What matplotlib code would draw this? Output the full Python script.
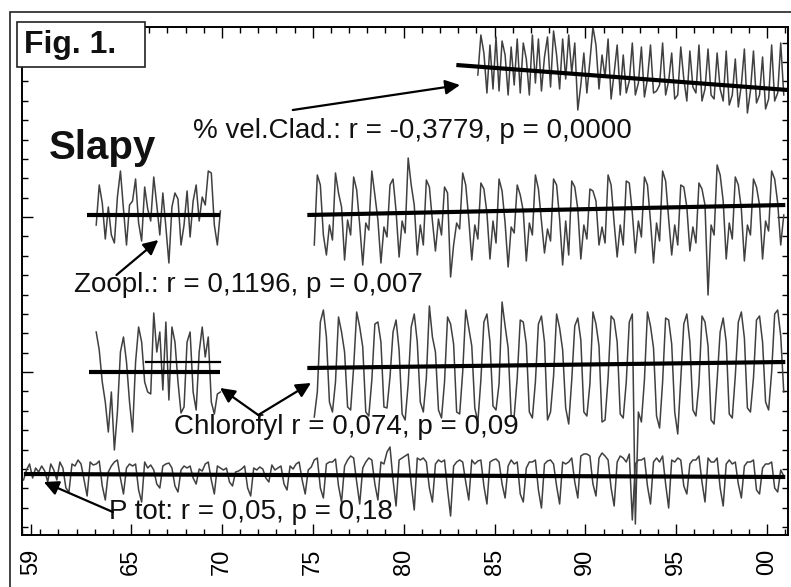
import numpy as np
import matplotlib
matplotlib.use('Agg')
import matplotlib.pyplot as plt
from matplotlib.patches import Rectangle
from matplotlib.ticker import FixedLocator, MultipleLocator

plt.rcParams['font.family'] = ['Liberation Sans', 'DejaVu Sans']

# ---- data: six readings per year (Jan, Mar, May, Jul, Sep, Nov), anomaly units ----
ptot_start = 1959
ptot_vals = [
    [-6, 4, 10, -4, 6, 2], [8, 3, -8, 10, 4, -6], [12, 6, -14, -18, 10, 8],
    [14, 10, -6, -22, 12, 9], [10, 13, -12, -26, 2, 8], [12, 14, -4, -20, 6, 10],
    [8, 10, -16, -28, 12, 6], [9, 4, -10, -14, 8, 10], [11, 6, -12, -18, 4, 8],
    [6, 8, -4, -10, 5, 3], [10, 12, -6, -20, 8, 6], [4, 6, -8, -12, 2, 3],
    [5, 8, -14, -22, 6, 4], [7, 5, -4, -8, 9, 4], [6, 8, -10, -16, 8, 5],
    [10, 12, -6, -20, 4, 7], [14, 16, -14, -24, 10, 12], [12, 15, -12, -28, 8, 14],
    [18, 16, -8, -30, 6, 12], [16, 14, -10, -26, 12, 10], [22, 27, -6, -32, 14, 16],
    [18, 20, -10, -36, 16, 14], [16, 12, -14, -28, 10, 14], [12, 14, -16, -42, 8, 12],
    [14, 12, -8, -26, 14, 10], [13, 14, -12, -30, 12, 14], [15, 12, -10, -24, 8, 14],
    [10, 12, -20, -28, 6, 12], [12, 14, -16, -34, 10, 13], [14, 10, -12, -30, 12, 10],
    [12, 16, -8, -24, 18, 20], [20, 18, -10, -22, 16, 21], [18, 14, -14, -32, 12, 18],
    [16, 12, 20, -46, 10, 14], [14, 16, -12, -30, 12, 16], [12, 18, -10, -34, 14, 12],
    [16, 14, -12, -20, 10, 14], [14, 18, -8, -28, 16, 12], [12, 16, -14, -32, 10, 14],
    [10, 12, -10, -24, 8, 12], [12, 14, -16, -20, 6, 10], [10, 12, -14, -18, 4, -2],
]

chl1_start = 1963
chl1_vals = [
    [40, 22, -10, -30, -60, -20], [-78, -40, 20, 35, 10, -30], [-60, 10, 45, 30, -10, -20],
    [-22, 59, 20, 40, -18, 50], [-28, 45, 30, -10, -41, -35], [30, 40, -20, -38, 20, 45],
    [15, 35, -30, -42, -22, -20],
]
chl2_start = 1975
chl2_vals = [
    [-45, -20, 50, 62, 35, -30], [-40, -10, 55, 40, 20, -35], [-38, 5, 60, 45, 25, -40],
    [-44, -8, 48, 50, 30, -35], [-36, -5, 40, 52, 22, -42], [-48, -12, 45, 58, 30, -30],
    [-40, -6, 66, 35, 20, -38], [-46, -10, 55, 48, 28, -40], [-42, 0, 62, 44, 26, -36],
    [-50, -8, 50, 58, 30, -34], [-38, -12, 70, 46, 24, -44], [-44, -6, 52, 50, 28, -40],
    [-46, -10, 48, 56, 30, -48], [-40, -4, 58, 44, 22, -36], [-52, -8, 46, 54, 32, -40],
    [-44, -12, 60, 48, 26, -50], [-48, -6, 56, 52, 30, -42], [-46, -10, 50, 58, -152, -40],
    [-50, -8, 60, 46, 24, -44], [-56, -10, 54, 52, 28, -40], [-62, -6, 48, 58, 30, -38],
    [-44, -12, 56, 50, 26, -48], [-52, -8, 40, 54, 30, -42], [-46, -4, 50, 60, 34, -36],
    [-40, -6, 52, 56, 30, -30], [-38, 0, 58, 62, 36, -20],
]

zoo1_start = 1963
zoo1_vals = [
    [-10, 30, 12, -24, 8, -20], [-28, 18, 44, 6, -30, 10], [14, 36, -8, -26, 28, 6],
    [-6, 38, 10, -20, 22, -12], [-48, 8, 22, 16, -30, -10], [24, -22, 14, 30, -6, 18],
    [10, 44, 42, -10, -30, 4],
]
zoo2_start = 1975
zoo2_vals = [
    [-30, 40, 30, -20, -40, -10], [-25, 42, 22, 8, -45, -5], [-20, 38, 25, -10, -50, -8],
    [-15, 44, 20, -5, -48, -12], [-22, 30, 36, 4, -42, -6], [-18, 57, 30, 10, -40, -10],
    [-30, 35, 28, -6, -36, -4], [-20, 28, 22, -62, -30, -8], [-14, 42, 30, -4, -45, -10],
    [-24, 32, 26, 2, -44, -6], [-28, 36, 24, -8, -52, -12], [-18, 30, 20, 4, -46, -8],
    [-20, 40, 26, -6, -38, -14], [-26, 36, 30, -4, -50, -6], [-40, 34, 28, 6, -44, -10],
    [-24, 26, 24, 14, -30, -12], [-28, 40, 30, -8, -42, -10], [-30, 34, 32, 2, -38, -6],
    [-22, 38, 30, -6, -48, -8], [-26, 44, 34, -4, -40, -10], [-30, 30, 28, 8, -36, -12],
    [-28, 32, 26, 10, -80, -10], [-20, 50, 40, 14, -44, -8], [-24, 38, 30, 6, -46, -10],
    [-20, 36, 28, 10, -44, -6], [-16, 44, 36, 12, -30, 0],
]

clad_start = 1984
clad_vals = [
    [-10, 30, 12, -28, 20, -24], [28, -26, 24, 10, -30, 18], [-20, 26, -28, 22, 6, -30],
    [30, -18, 26, -26, 8, 28], [-22, 34, 10, -24, 26, -14], [30, -8, 22, -45, -20, 12],
    [-28, 4, 38, 20, -24, 10], [-12, 26, -34, -8, 20, -30], [10, -28, -16, 22, -30, -18],
    [18, -32, -14, 20, -28, -26], [-20, 22, -30, -16, 12, -34], [-30, 18, -14, -36, 14, -22],
    [-28, 20, -36, -24, 16, -30], [-34, 12, -24, -36, 14, -40], [-30, 6, -42, -20, 16, -48],
    [-26, 14, -38, -30, 8, -44], [-34, 20, -36, -28, 22, -30],
]

# linear trends (start/end year, start/end value)
ptot_trend_t, ptot_trend = [1959.1, 2001.0], [0, -3]
chl1_trend_t, chl1_trend = [1962.7, 1969.9], [0, 0]
chl1_upper_t, chl1_upper = [1965.8, 1969.9], [10, 10]
chl2_trend_t, chl2_trend = [1974.7, 2001.0], [4, 10]
zoo1_trend_t, zoo1_trend = [1962.6, 1969.9], [0, 0]
zoo2_trend_t, zoo2_trend = [1974.7, 2001.0], [0, 10]
clad_trend_t, clad_trend = [1982.9, 2001.15], [0, -25]

year_ticks = [1959.5, 1965, 1970, 1975, 1980, 1985, 1990, 1995, 2000]
year_labels = ['59', '65', '70', '75', '80', '85', '90', '95', '00']

# vertical placement of each curve in the stacked plot
off_ptot, off_chl, off_zoo, off_clad = 61, 163, 320, 470


def flatten(start, rows):
    v = np.array(rows, dtype=float)
    n, k = v.shape
    t = start + (np.arange(n * k) + 0.5) / k
    return t, v.ravel()


fig = plt.figure(figsize=(7.91, 5.87), dpi=100)
W, H = 791, 587

# outer frame of the scanned page + "Fig. 1." box
fig.patches.append(Rectangle((10 / W, -0.1), 1.2, 1 - 12 / H + 0.1, transform=fig.transFigure,
                             fill=False, lw=1.2, ec='#222'))
ax = fig.add_axes([22 / W, 1 - 535 / H, (788 - 22) / W, (535 - 27) / H])

line_kw = dict(color='#404040', lw=1.1)
trend_kw = dict(color='black', lw=3.0, solid_capstyle='butt')

for start, rows, off in [(ptot_start, ptot_vals, off_ptot), (chl1_start, chl1_vals, off_chl),
                         (chl2_start, chl2_vals, off_chl), (zoo1_start, zoo1_vals, off_zoo),
                         (zoo2_start, zoo2_vals, off_zoo), (clad_start, clad_vals, off_clad)]:
    t, v = flatten(start, rows)
    ax.plot(t, v + off, **line_kw)

for tt, vv, off in [(ptot_trend_t, ptot_trend, off_ptot), (chl1_trend_t, chl1_trend, off_chl),
                    (chl2_trend_t, chl2_trend, off_chl), (zoo1_trend_t, zoo1_trend, off_zoo),
                    (zoo2_trend_t, zoo2_trend, off_zoo), (clad_trend_t, clad_trend, off_clad)]:
    ax.plot(tt, np.array(vv) + off, **trend_kw)
ax.plot(chl1_upper_t, np.array(chl1_upper) + off_chl, color='black', lw=1.6)

ax.set_xlim(1959.0, 2001.15)
ax.set_ylim(0, 508)

ax.set_xticks(year_ticks)
ax.set_xticklabels(year_labels, rotation=90, fontsize=17)
ax.xaxis.set_minor_locator(MultipleLocator(1))
ax.set_yticks([163, 318])
ax.set_yticklabels([])
ax.yaxis.set_minor_locator(FixedLocator(318 + 19.375 * np.arange(-16, 10)))
ax.tick_params(which='both', direction='in', top=True, right=True, width=1)
ax.tick_params(which='major', length=8, pad=10)
ax.tick_params(which='minor', length=4)
for s in ax.spines.values():
    s.set_linewidth(1.4)

txt = dict(fontsize=20, color='#111', va='center', ha='left')
ax.text(1968.4, 404, '% vel.Clad.: r = -0,3779, p = 0,0000', **txt)
ax.text(1961.87, 250, 'Zoopl.: r = 0,1196, p = 0,007', **txt)
ax.text(1967.36, 108, 'Chlorofyl r = 0,074, p = 0,09', **txt)
ax.text(1963.8, 23, 'P tot: r = 0,05, p = 0,18', **txt)
ax.text(1960.5, 387, 'Slapy', fontsize=29, fontweight='bold', color='#111', va='center', ha='left')

arr = dict(arrowstyle='-|>', color='black', lw=1.6, mutation_scale=22, shrinkA=0, shrinkB=0)
ax.annotate('', xy=(1983.1, 450), xytext=(1973.9, 425), arrowprops=arr)
ax.annotate('', xy=(1966.5, 295), xytext=(1964.2, 260), arrowprops=arr)
ax.annotate('', xy=(1969.9, 147), xytext=(1972.0, 120), arrowprops=arr)
ax.annotate('', xy=(1974.9, 152), xytext=(1972.0, 120), arrowprops=arr)
ax.annotate('', xy=(1960.2, 53), xytext=(1964.0, 23), arrowprops=arr)

fig.patches.append(Rectangle((17 / W, 1 - 67 / H), 128 / W, 45 / H, transform=fig.transFigure,
                             fc='white', ec='#222', lw=1.2, zorder=5))
fig.text(24 / W, 1 - 45 / H, 'Fig. 1.', fontsize=23, fontweight='bold', color='#111',
         va='center', ha='left', zorder=6)

fig.savefig('out.png', dpi=100)
